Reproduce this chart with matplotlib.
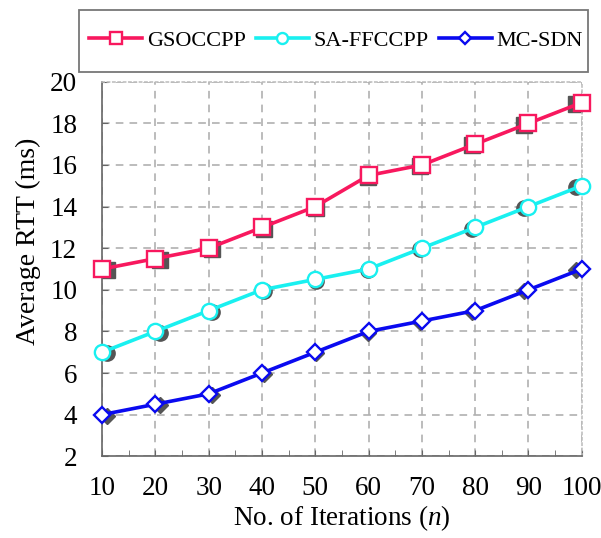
import numpy as np
import matplotlib
matplotlib.use("Agg")
import matplotlib.pyplot as plt
from matplotlib.patches import Rectangle

plt.rcParams['font.family'] = ['Liberation Serif', 'DejaVu Serif']
plt.rcParams['mathtext.fontset'] = 'custom'
plt.rcParams['mathtext.rm'] = 'Liberation Serif'
plt.rcParams['mathtext.it'] = 'Liberation Serif:italic'

iterations = [10, 20, 30, 40, 50, 60, 70, 80, 90, 100]
gsoccpp = [11, 11.5, 12, 13, 14, 15.5, 16, 17, 18, 19]
sa_ffccpp = [7, 8, 9, 10, 10.5, 11, 12, 13, 14, 15]
mc_sdn = [4, 4.5, 5, 6, 7, 8, 8.5, 9, 10, 11]

names = ['GSOCCPP', 'SA-FFCCPP', 'MC-SDN']
colors = ['#F8185E', '#19F0F0', '#0A0AF0']
markers = ['s', 'o', 'D']
sizes = [11.5, 11, 8.5]

fig = plt.figure(figsize=(6.01, 5.38), dpi=100)
ax = fig.add_axes([0.170, 0.152, 0.798, 0.696])

x = np.array(iterations, dtype=float)
# grey "shadow" copies of the markers, slightly squeezed toward the middle
xs = 11 + (x - 10) * 88 / 90
for ys, m, s in zip([gsoccpp, sa_ffccpp, mc_sdn], markers, sizes):
    ax.plot(xs, np.array(ys) - 0.06, linestyle='none', marker=m, markersize=s,
            color='#555555', zorder=2)

for ys, name, c, m, s in zip([gsoccpp, sa_ffccpp, mc_sdn], names, colors, markers, sizes):
    ax.plot(x, ys, color=c, linewidth=2.6, marker=m, markersize=s,
            markerfacecolor='white', markeredgecolor=c, markeredgewidth=1.7,
            label=name, zorder=3, clip_on=False)

ax.set_xlim(10, 100)
ax.set_ylim(2, 20)
ax.set_xticks(iterations)
ax.set_xticks(np.arange(15, 100, 10), minor=True)
ax.set_yticks(np.arange(2, 21, 2))
ax.grid(True, linestyle=(0, (5, 4)), color='#AAAAAA', linewidth=1.1)
ax.tick_params(axis='both', direction='in', labelsize=19.5, color='#666666', length=4)
ax.tick_params(axis='x', pad=14)
ax.tick_params(axis='y', pad=18)
ax.tick_params(axis='x', which='minor', direction='in', color='#666666', length=4)

for side in ['left', 'bottom']:
    ax.spines[side].set_color('#666666')
    ax.spines[side].set_linewidth(1.2)
for side in ['right', 'top']:
    ax.spines[side].set_color('#BBBBBB')
    ax.spines[side].set_linestyle((0, (1.5, 2)))
    ax.spines[side].set_linewidth(1.1)

ax.set_xlabel('No. of Iterations ($n$)', fontsize=19.5, labelpad=2)
ax.set_ylabel('Average RTT (ms)', fontsize=20)
ax.yaxis.set_label_coords(-0.128, 0.575)

# legend box drawn separately so its padding can match the reference
fig.patches.append(Rectangle((0.131, 0.866), 0.847, 0.115, transform=fig.transFigure,
                             facecolor='white', edgecolor='#777777', linewidth=1.3))
leg = fig.legend(loc='center', bbox_to_anchor=(0.559, 0.924), ncol=3, fontsize=16,
                 frameon=False, handlelength=2.4, columnspacing=0.45,
                 handletextpad=0.2, borderpad=0.3, borderaxespad=0, markerscale=0.72)

fig.savefig('out.png', dpi=100)
